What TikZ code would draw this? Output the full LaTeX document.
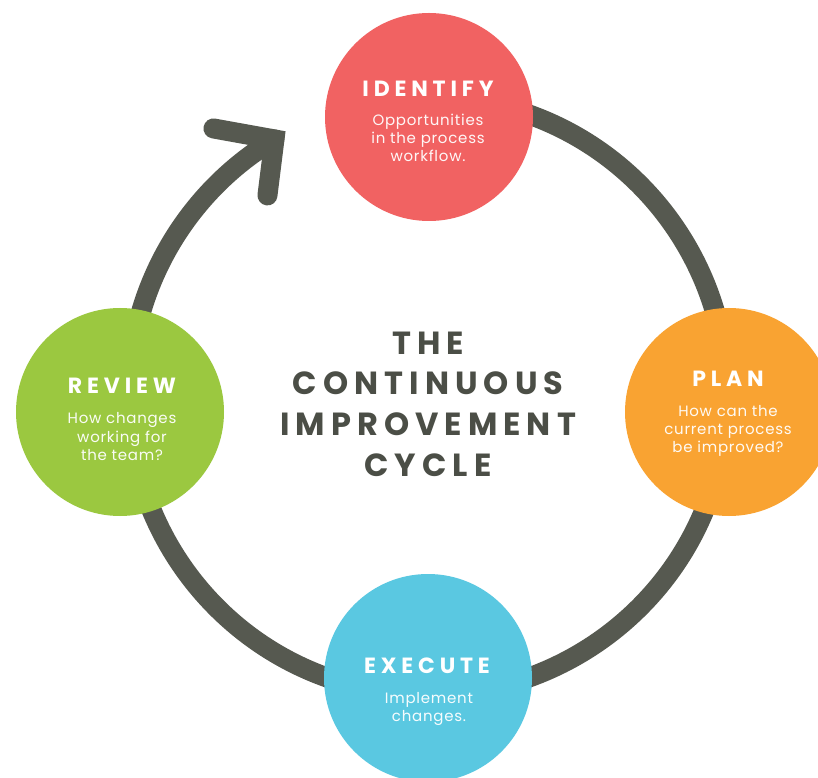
\documentclass[tikz,border=0pt]{standalone}
\usepackage{fontspec}
\setmainfont{Poppins}
\newfontfamily\ttlfam[LetterSpace=19]{Poppins}
\newfontfamily\headfam[LetterSpace=22]{Poppins}
\newfontfamily\bodyfam[LetterSpace=5]{Poppins}
\newcommand\ttlfnt{\ttlfam\bfseries\fontsize{32}{36}\selectfont}
\newcommand\headfnt{\headfam\bfseries\fontsize{22}{26}\selectfont}
\newcommand\bodyfnt{\bodyfam\fontsize{15}{18}\selectfont}
\definecolor{ringgray}{HTML}{565950}
\definecolor{ttlgray}{HTML}{4B4E46}
\definecolor{idred}{HTML}{F16262}
\definecolor{planorange}{HTML}{F9A332}
\definecolor{revgreen}{HTML}{9BC840}
\definecolor{exblue}{HTML}{5AC8E1}
\begin{document}
\begin{tikzpicture}[x=1pt,y=1pt,
  ring/.style={draw=ringgray, line width=20pt, line cap=round},
  stage/.style={circle, minimum size=208pt, inner sep=0pt, draw=none},
  head/.style={anchor=base, text=white, font=\headfnt, inner sep=0pt},
  body/.style={anchor=base, text=white, text opacity=0.95, font=\bodyfnt, inner sep=0pt},
  ttl/.style={anchor=base, text=ttlgray, font=\ttlfnt, inner sep=0pt}]
\useasboundingbox (0,0) rectangle (818,777);
\fill[white] (0,0) rectangle (818,777);
% ring
\coordinate (rc) at (428,381);
\coordinate (tipv) at ([shift={(120.9:299)}]rc);
\draw[ring] ([shift={(80:299)}]rc) arc[start angle=80, end angle=-239.1, radius=299];
\coordinate (arma) at ([shift={(-61,11)}]tipv);
\coordinate (armb) at ([shift={(-7,-56)}]tipv);
\draw[ring, line join=miter] (arma) -- (tipv) -- (armb);
% stages
\node[stage, fill=idred] (identify) at (429,660) {};
\node[stage, fill=planorange] (plan) at (729,365) {};
\node[stage, fill=revgreen] (review) at (120,365) {};
\node[stage, fill=exblue] (execute) at (428,99) {};
% identify text
\node[head] (idh) at (428,680) {IDENTIFY};
\node[body] (idb1) at (428,651) {Opportunities};
\node[body] (idb2) at (428,633) {in the process};
\node[body] (idb3) at (428,615) {workflow.};
% plan text
\node[head] (plh) at (728,390) {PLAN};
\node[body] (plb1) at (728,361) {How can the};
\node[body] (plb2) at (728,343) {current process};
\node[body] (plb3) at (728,325) {be improved?};
% review text
\node[head] (rvh) at (122,383) {REVIEW};
\node[body] (rvb1) at (122,354) {How changes};
\node[body] (rvb2) at (122,335) {working for};
\node[body] (rvb3) at (122,317) {the team?};
% execute text
\node[head] (exh) at (427,104) {EXECUTE};
\node[body] (exb1) at (429,74) {Implement};
\node[body] (exb2) at (429,56) {changes.};
% title
\node[ttl] (t1) at (428,422) {THE};
\node[ttl] (t2) at (428,382) {CONTINUOUS};
\node[ttl] (t3) at (428,342) {IMPROVEMENT};
\node[ttl] (t4) at (428,301) {CYCLE};
\end{tikzpicture}
\end{document}
